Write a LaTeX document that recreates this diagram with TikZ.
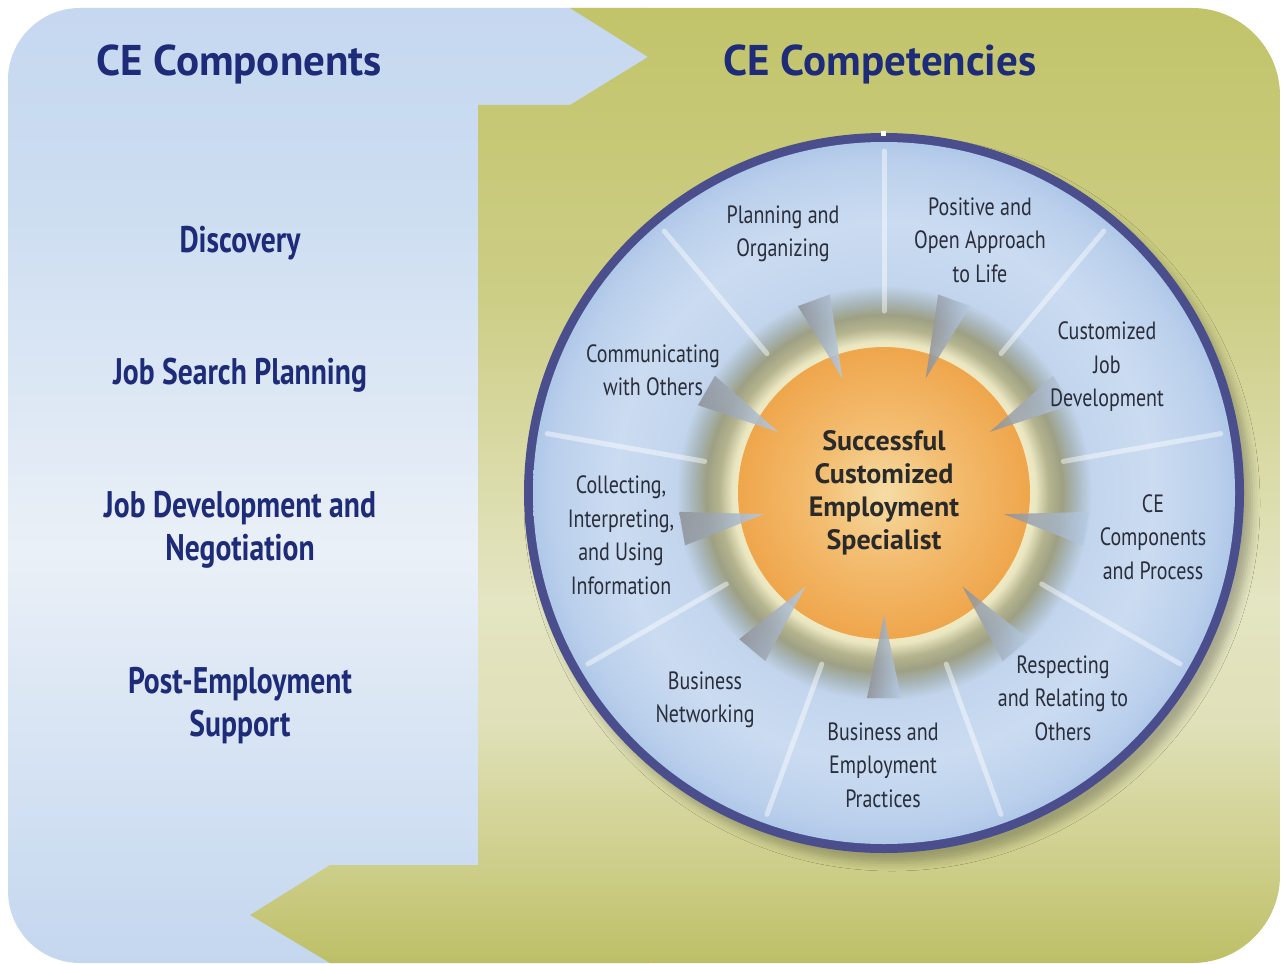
\documentclass[tikz,border=0pt]{standalone}
\usepackage{fontspec}
\setmainfont{PT Sans}
\newfontfamily\narrowfont[FakeStretch=0.8]{PT Sans}
\usetikzlibrary{calc,shadows.blur}

\definecolor{titlenavy}{HTML}{1D2B78}
\definecolor{rimnavy}{HTML}{4A4E8C}
\definecolor{labelink}{HTML}{2A2D3A}
\definecolor{centerink}{HTML}{2A2A2A}
\definecolor{arrowbase}{HTML}{B6CCE4}
\definecolor{arrowtip}{HTML}{8E9096}

% panels: light band a little below the middle
\pgfdeclareverticalshading{bluefade}{100bp}{%
    color(0bp)=(rgb,255:red,196;green,215;blue,239); color(25bp)=(rgb,255:red,196;green,215;blue,239);
    color(36bp)=(rgb,255:red,214;green,227;blue,243); color(46.6bp)=(rgb,255:red,234;green,240;blue,247);
    color(65bp)=(rgb,255:red,204;green,221;blue,241); color(75bp)=(rgb,255:red,198;green,216;blue,240);
    color(100bp)=(rgb,255:red,198;green,216;blue,240)}
\pgfdeclareverticalshading{olivefade}{100bp}{%
    color(0bp)=(rgb,255:red,189;green,191;blue,103); color(25bp)=(rgb,255:red,189;green,191;blue,103);
    color(29.3bp)=(rgb,255:red,203;green,204;blue,132); color(37.7bp)=(rgb,255:red,224;green,225;blue,185);
    color(44bp)=(rgb,255:red,228;green,229;blue,194); color(59.7bp)=(rgb,255:red,205;green,206;blue,134);
    color(75bp)=(rgb,255:red,194;green,196;blue,106); color(100bp)=(rgb,255:red,194;green,196;blue,106)}

% ring: blue band with a dark glow round the centre
\pgfdeclareradialshading{wheel}{\pgfpoint{0bp}{0bp}}{%
    color(0bp)=(rgb,255:red,239;green,234;blue,196); color(10.4bp)=(rgb,255:red,239;green,234;blue,196);
    color(10.8bp)=(rgb,255:red,233;green,230;blue,192); color(11.75bp)=(rgb,255:red,180;green,180;blue,142);
    color(12.7bp)=(rgb,255:red,158;green,160;blue,132); color(13.7bp)=(rgb,255:red,169;green,183;blue,188);
    color(14.8bp)=(rgb,255:red,194;green,213;blue,237); color(19.2bp)=(rgb,255:red,203;green,220;blue,241);
    color(23.5bp)=(rgb,255:red,187;green,208;blue,236); color(25bp)=(rgb,255:red,176;green,200;blue,232);
    color(50bp)=(rgb,255:red,176;green,200;blue,232)}
\pgfdeclareradialshading{sun}{\pgfpoint{0bp}{0bp}}{%
    color(0bp)=(rgb,255:red,245;green,221;blue,166); color(11bp)=(rgb,255:red,243;green,190;blue,114);
    color(25bp)=(rgb,255:red,239;green,166;blue,76); color(50bp)=(rgb,255:red,239;green,166;blue,76)}

\tikzset{
    headline/.style={font=\fontsize{43}{48}\selectfont\bfseries, text=titlenavy},
    component/.style={font=\narrowfont\fontsize{37}{43}\selectfont\bfseries, text=titlenavy, align=center},
    competency/.style={font=\narrowfont\fontsize{25}{33.5}\selectfont, text=labelink, align=center},
    hubtext/.style={font=\fontsize{28}{33}\selectfont\bfseries, text=centerink, align=center},
    spoke/.style={white, opacity=0.45, line width=5pt, line cap=round},
    pointer/.style={left color=arrowtip, right color=arrowbase, opacity=0.85}
}

\begin{document}
\begin{tikzpicture}[x=1pt,y=1pt]
    \useasboundingbox (0,0) rectangle (1281,-963);
    \fill[white] (0,0) rectangle (1281,-963);

    % Draw left panel
    \shade[shading=bluefade, rounded corners=72] (8,-8) rectangle (720,-963);

    % Draw right panel with the two arrow notches
    \begin{scope}
        \clip[rounded corners=88] (-100,-8) rectangle (1280,-963);
        \shade[shading=olivefade]
            (570,-8) -- (1300,-8) -- (1300,-963) -- (330,-963) -- (250,-915) -- (330,-865)
            -- (478,-865) -- (478,-105) -- (570,-105) -- (648,-57) -- cycle;
    \end{scope}

    % Draw ring
    \coordinate (hub) at (884,-493);
    \fill[rimnavy, blur shadow={shadow xshift=8pt, shadow yshift=-10pt, shadow blur radius=8pt, shadow opacity=25}]
        (hub) circle[radius=360];
    \shade[shading=wheel] (hub) circle[radius=351];
    \fill[white] (881,-131) rectangle (886,-136);

    % Draw spokes between the competencies
    \foreach \a in {90,50,...,-230} {
        \draw[spoke] ($(hub)+(\a:182)$) -- ($(hub)+(\a:342)$);
    }

    % Draw centre disk and the arrows pointing at it
    \shade[shading=sun] (hub) circle[radius=146];
    \foreach \a in {110,70,...,-210} {
        \shade[pointer, shift={(hub)}, rotate=\a] (122,0) -- (205,17) -- (205,-17) -- cycle;
    }

    % Headings
    \node[headline] (components) at (239,-64) {CE Components};
    \node[headline] (competencies) at (880,-64) {CE Competencies};

    % Components
    \node[component] (discovery) at (240,-243) {Discovery};
    \node[component] (search) at (240,-375) {Job Search Planning};
    \node[component] (negotiation) at (240,-530) {Job Development and\\Negotiation};
    \node[component] (support) at (240,-706) {Post-Employment\\Support};

    % Competencies
    \node[competency] (planning) at (783,-234) {Planning and\\Organizing};
    \node[competency] (positive) at (980,-240) {Positive and\\Open Approach\\to Life};
    \node[competency] (custom) at (1107,-367) {Customized\\Job\\Development};
    \node[competency] (process) at (1153,-537) {CE\\Components\\and Process};
    \node[competency] (respect) at (1063,-698) {Respecting\\and Relating to\\Others};
    \node[competency] (practices) at (883,-765) {Business and\\Employment\\Practices};
    \node[competency] (network) at (705,-700) {Business\\Networking};
    \node[competency] (collect) at (621,-535) {Collecting,\\Interpreting,\\and Using\\Information};
    \node[competency] (communicate) at (653,-370) {Communicating\\with Others};

    \node[hubtext] (specialist) at (hub) {Successful\\Customized\\Employment\\Specialist};
\end{tikzpicture}
\end{document}
